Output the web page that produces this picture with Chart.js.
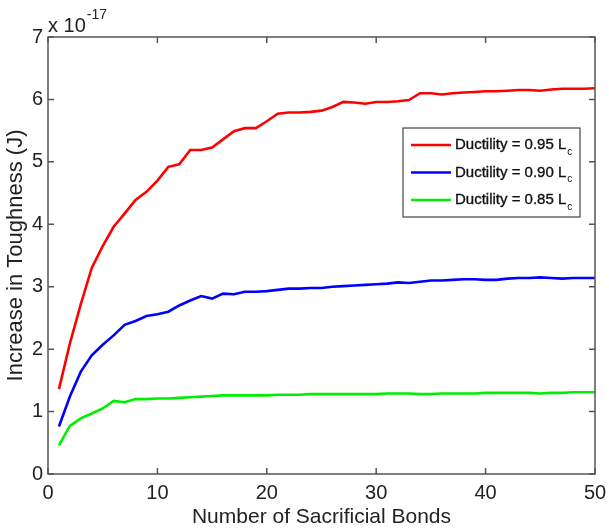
<!DOCTYPE html>
<html>
<head>
<meta charset="utf-8">
<script src="https://cdn.jsdelivr.net/npm/chart.js@4/dist/chart.umd.min.js"></script>
<style>
html,body{margin:0;padding:0;background:#fff;}
#wrap{position:relative;width:609px;height:530px;}
</style>
</head>
<body>
<div id="wrap"><canvas id="c" width="609" height="530"></canvas></div>
<script>
const bonds = [1,2,3,4,5,6,7,8,9,10,11,12,13,14,15,16,17,18,19,20,21,22,23,24,25,26,27,28,29,30,31,32,33,34,35,36,37,38,39,40,41,42,43,44,45,46,47,48,49,50];
const ductility095 = [1.36,2.09,2.72,3.30,3.65,3.96,4.17,4.39,4.52,4.70,4.92,4.96,5.19,5.19,5.23,5.36,5.49,5.54,5.54,5.65,5.77,5.79,5.79,5.80,5.82,5.88,5.96,5.95,5.93,5.96,5.96,5.97,5.99,6.10,6.10,6.08,6.10,6.11,6.12,6.13,6.13,6.14,6.15,6.15,6.14,6.16,6.17,6.17,6.17,6.18];
const ductility090 = [0.76,1.24,1.64,1.90,2.07,2.22,2.39,2.45,2.53,2.56,2.60,2.70,2.78,2.85,2.81,2.89,2.88,2.92,2.92,2.93,2.95,2.97,2.97,2.98,2.98,3.00,3.01,3.02,3.03,3.04,3.05,3.07,3.06,3.08,3.10,3.10,3.11,3.12,3.12,3.11,3.11,3.13,3.14,3.14,3.15,3.14,3.13,3.14,3.14,3.14];
const ductility085 = [0.46,0.77,0.89,0.97,1.05,1.17,1.15,1.20,1.20,1.21,1.21,1.22,1.23,1.24,1.25,1.26,1.26,1.26,1.26,1.26,1.27,1.27,1.27,1.28,1.28,1.28,1.28,1.28,1.28,1.28,1.29,1.29,1.29,1.28,1.28,1.29,1.29,1.29,1.29,1.30,1.30,1.30,1.30,1.30,1.29,1.30,1.30,1.31,1.31,1.31];
const seriesNames = ['Ductility = 0.95 L', 'Ductility = 0.90 L', 'Ductility = 0.85 L'];
const seriesSub = ['c', 'c', 'c'];
const seriesColors = ['#ff0000', '#0000ff', '#00ee00'];
const xTicks = [0,10,20,30,40,50];
const yTicks = [0,1,2,3,4,5,6,7];
const xTitle = 'Number of Sacrificial Bonds';
const yTitle = 'Increase in Toughness (J)';
const expBase = 'x 10';
const expPow = '-17';

const FONT = '"Liberation Sans", Arial, sans-serif';
const allSeries = [ductility095, ductility090, ductility085];

const datasets = allSeries.map((vals, i) => ({
  label: seriesNames[i] + seriesSub[i],
  data: bonds.map((b, j) => ({x: b, y: vals[j]})),
  borderColor: seriesColors[i],
  backgroundColor: seriesColors[i],
  borderWidth: 2.6,
  pointRadius: 0,
  tension: 0,
  fill: false
}));

const framePlugin = {
  id: 'matlabFrame',
  afterDraw(chart) {
    const ctx = chart.ctx;
    const a = chart.chartArea;
    const xs = chart.scales.x, ys = chart.scales.y;
    ctx.save();
    ctx.strokeStyle = '#555';
    ctx.lineWidth = 1.5;
    ctx.strokeRect(a.left, a.top, a.right - a.left, a.bottom - a.top);
    const tl = 6;
    ctx.beginPath();
    xTicks.forEach(v => {
      const px = xs.getPixelForValue(v);
      ctx.moveTo(px, a.bottom); ctx.lineTo(px, a.bottom - tl);
      ctx.moveTo(px, a.top); ctx.lineTo(px, a.top + tl);
    });
    yTicks.forEach(v => {
      const py = ys.getPixelForValue(v);
      ctx.moveTo(a.left, py); ctx.lineTo(a.left + tl, py);
      ctx.moveTo(a.right, py); ctx.lineTo(a.right - tl, py);
    });
    ctx.stroke();

    // exponent label
    ctx.fillStyle = '#222';
    ctx.textBaseline = 'alphabetic';
    ctx.textAlign = 'left';
    ctx.font = '20px ' + FONT;
    ctx.fillText(expBase, a.left, 32);
    const w = ctx.measureText(expBase).width;
    ctx.font = '14px ' + FONT;
    ctx.fillText(expPow, a.left + w + 1, 19);

    // legend
    const lx = 403, ly = 128, lw = 177, lh = 89;
    ctx.fillStyle = '#fff';
    ctx.fillRect(lx, ly, lw, lh);
    ctx.strokeStyle = '#444';
    ctx.lineWidth = 1.2;
    ctx.strokeRect(lx, ly, lw, lh);
    const rows = [145, 172.5, 200];
    chart.data.datasets.forEach((ds, i) => {
      const ry = rows[i];
      ctx.strokeStyle = ds.borderColor;
      ctx.lineWidth = 2.6;
      ctx.beginPath();
      ctx.moveTo(411, ry); ctx.lineTo(451, ry);
      ctx.stroke();
      ctx.fillStyle = '#111';
      ctx.strokeStyle = '#111';
      ctx.lineWidth = 0.35;
      ctx.font = '15px ' + FONT;
      ctx.textBaseline = 'middle';
      ctx.fillText(seriesNames[i], 455, ry);
      ctx.strokeText(seriesNames[i], 455, ry);
      const tw = ctx.measureText(seriesNames[i]).width;
      ctx.font = '10px ' + FONT;
      ctx.fillText(seriesSub[i], 455 + tw + 1, ry + 7);
    });
    ctx.restore();
  }
};

new Chart(document.getElementById('c'), {
  type: 'line',
  data: { datasets },
  options: {
    responsive: false,
    animation: false,
    layout: { padding: { top: 37, right: 14, bottom: 0, left: 0 } },
    plugins: { legend: { display: false }, tooltip: { enabled: false } },
    scales: {
      x: {
        type: 'linear', min: 0, max: 50,
        afterBuildTicks: s => { s.ticks = xTicks.map(v => ({value: v})); },
        afterFit: s => { s.height = 56; s.paddingLeft = 0; s.paddingRight = 0; },
        grid: { display: false, drawTicks: false },
        border: { display: false },
        ticks: { color: '#222', font: { family: FONT, size: 20 }, padding: 7, maxRotation: 0 },
        title: { display: true, text: xTitle, color: '#222', font: { family: FONT, size: 21 }, padding: { top: 0, bottom: 0 } }
      },
      y: {
        type: 'linear', min: 0, max: 7,
        afterBuildTicks: s => { s.ticks = yTicks.map(v => ({value: v})); },
        afterFit: s => { s.width = 48; s.paddingTop = 0; s.paddingBottom = 0; },
        grid: { display: false, drawTicks: false },
        border: { display: false },
        ticks: { color: '#222', font: { family: FONT, size: 20 }, padding: 5 },
        title: { display: true, text: yTitle, color: '#222', font: { family: FONT, size: 22 }, padding: { top: 3, bottom: 0 } }
      }
    }
  },
  plugins: [framePlugin]
});
</script>
</body>
</html>
